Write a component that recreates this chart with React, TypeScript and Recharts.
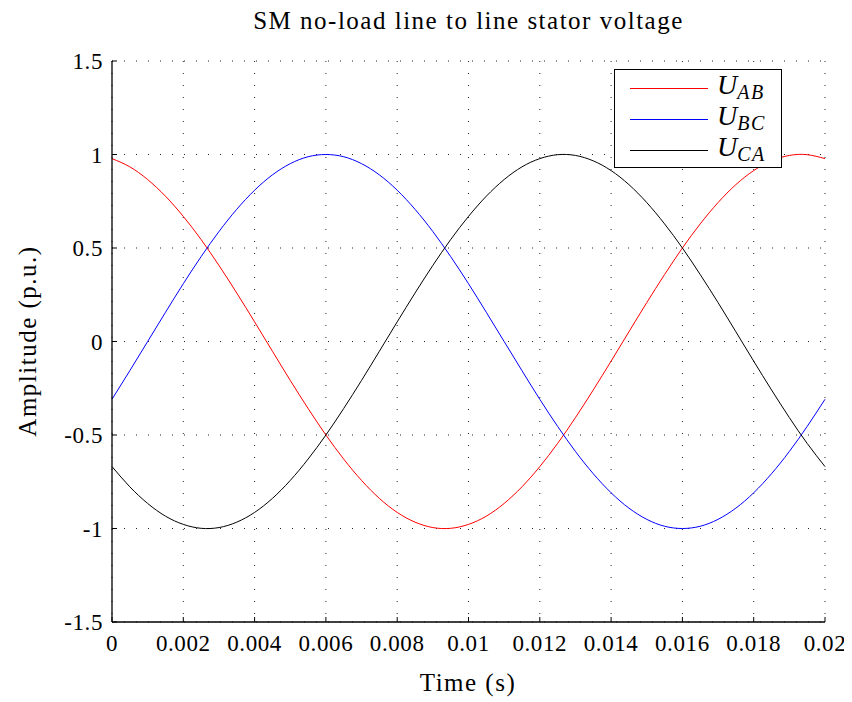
import React from 'react';
import { LineChart, Line, XAxis, YAxis, CartesianGrid, Legend } from 'recharts';

// time samples (s), one every 0.5 ms
const timeS = [
  0, 0.0005, 0.001, 0.0015, 0.002, 0.0025, 0.003, 0.0035, 0.004, 0.0045,
  0.005, 0.0055, 0.006, 0.0065, 0.007, 0.0075, 0.008, 0.0085, 0.009, 0.0095,
  0.01, 0.0105, 0.011, 0.0115, 0.012, 0.0125, 0.013, 0.0135, 0.014, 0.0145,
  0.015, 0.0155, 0.016, 0.0165, 0.017, 0.0175, 0.018, 0.0185, 0.019, 0.0195,
  0.02,
];

const uAB = [
  0.978, 0.934, 0.866, 0.777, 0.669, 0.545, 0.407, 0.259, 0.105, -0.052,
  -0.208, -0.358, -0.5, -0.629, -0.743, -0.839, -0.914, -0.966, -0.995, -0.999,
  -0.978, -0.934, -0.866, -0.777, -0.669, -0.545, -0.407, -0.259, -0.105, 0.052,
  0.208, 0.358, 0.5, 0.629, 0.743, 0.839, 0.914, 0.966, 0.995, 0.999,
  0.978,
];

const uBC = [
  -0.309, -0.156, 0, 0.156, 0.309, 0.454, 0.588, 0.707, 0.809, 0.891,
  0.951, 0.988, 1, 0.988, 0.951, 0.891, 0.809, 0.707, 0.588, 0.454,
  0.309, 0.156, 0, -0.156, -0.309, -0.454, -0.588, -0.707, -0.809, -0.891,
  -0.951, -0.988, -1, -0.988, -0.951, -0.891, -0.809, -0.707, -0.588, -0.454,
  -0.309,
];

const uCA = [
  -0.669, -0.777, -0.866, -0.934, -0.978, -0.999, -0.995, -0.966, -0.914, -0.839,
  -0.743, -0.629, -0.5, -0.358, -0.208, -0.052, 0.105, 0.259, 0.407, 0.545,
  0.669, 0.777, 0.866, 0.934, 0.978, 0.999, 0.995, 0.966, 0.914, 0.839,
  0.743, 0.629, 0.5, 0.358, 0.208, 0.052, -0.105, -0.259, -0.407, -0.545,
  -0.669,
];

const xTicks = [0, 0.002, 0.004, 0.006, 0.008, 0.01, 0.012, 0.014, 0.016, 0.018, 0.02];
const yTicks = [-1.5, -1, -0.5, 0, 0.5, 1, 1.5];

const series = [
  { key: 'uAB', sub: 'AB', color: '#ff0000' },
  { key: 'uBC', sub: 'BC', color: '#0000ff' },
  { key: 'uCA', sub: 'CA', color: '#000000' },
];

const data = timeS.map((t, i) => ({ t, uAB: uAB[i], uBC: uBC[i], uCA: uCA[i] }));

const FONT = "'Liberation Serif', 'Times New Roman', serif";
const tickStyle = { fontSize: 23, fill: '#000', fontFamily: FONT, letterSpacing: 0.6 };

const LegendBox = ({ payload }: any) => (
  <div
    style={{
      width: 168,
      height: 99,
      boxSizing: 'border-box',
      border: '1.5px solid #000',
      background: '#fff',
      paddingTop: 3,
      fontFamily: FONT,
    }}
  >
    {(payload || []).map((entry: any) => (
      <div key={entry.value} style={{ display: 'flex', alignItems: 'center', height: 31 }}>
        <div style={{ marginLeft: 15, width: 78, borderTop: `1.3px solid ${entry.color}` }} />
        <div style={{ marginLeft: 9, fontSize: 28, lineHeight: '28px', fontStyle: 'italic' }}>
          U
          <sub style={{ fontSize: 20, verticalAlign: '-5px', letterSpacing: 1.5 }}>{entry.value}</sub>
        </div>
      </div>
    ))}
  </div>
);

export default function App() {
  return (
    <div style={{ position: 'relative', width: 844, height: 694, fontFamily: FONT, color: '#000' }}>
      <div
        style={{
          position: 'absolute',
          left: 104,
          width: 713,
          top: 0,
          textAlign: 'center',
          fontSize: 25,
          lineHeight: '25px',
          letterSpacing: 1.5,
          whiteSpace: 'nowrap',
        }}
      >
        SM no-load line to line stator voltage
      </div>
      <LineChart
        width={844}
        height={694}
        data={data}
        margin={{ top: 53, right: 27, bottom: 40, left: 34 }}
      >
        <CartesianGrid stroke="#222" strokeDasharray="1 11" />
        <XAxis
          dataKey="t"
          type="number"
          domain={[0, 0.02]}
          ticks={xTicks}
          interval={0}
          height={40}
          tickSize={-5}
          tickMargin={18}
          axisLine={{ stroke: '#000', strokeWidth: 1.3 }}
          tickLine={{ stroke: '#000' }}
          tick={tickStyle}
        />
        <XAxis
          xAxisId="top"
          orientation="top"
          dataKey="t"
          type="number"
          domain={[0, 0.02]}
          ticks={xTicks}
          interval={0}
          height={0}
          tickSize={-5}
          tick={false}
          axisLine={{ stroke: '#000', strokeWidth: 1.3 }}
          tickLine={{ stroke: '#000' }}
        />
        <YAxis
          type="number"
          domain={[-1.5, 1.5]}
          ticks={yTicks}
          interval={0}
          width={70}
          tickSize={-5}
          tickMargin={14}
          axisLine={{ stroke: '#000', strokeWidth: 1.3 }}
          tickLine={{ stroke: '#000' }}
          tick={tickStyle}
        />
        <YAxis
          yAxisId="right"
          orientation="right"
          type="number"
          domain={[-1.5, 1.5]}
          ticks={yTicks}
          interval={0}
          width={0}
          tickSize={-5}
          tick={false}
          axisLine={{ stroke: '#000', strokeWidth: 1.3 }}
          tickLine={{ stroke: '#000' }}
        />
        <Legend
          layout="vertical"
          align="center"
          verticalAlign="middle"
          content={<LegendBox />}
          wrapperStyle={{ left: 606, top: 61, width: 168, height: 99 }}
        />
        {series.map((s) => (
          <Line
            key={s.key}
            type="natural"
            dataKey={s.key}
            name={s.sub}
            stroke={s.color}
            strokeWidth={1}
            dot={false}
            activeDot={false}
            isAnimationActive={false}
          />
        ))}
      </LineChart>
      <div
        style={{
          position: 'absolute',
          left: 360,
          width: 200,
          top: 662,
          textAlign: 'center',
          fontSize: 25,
          lineHeight: '25px',
          letterSpacing: 1.5,
          whiteSpace: 'nowrap',
        }}
      >
        Time (s)
      </div>
      <div
        style={{
          position: 'absolute',
          left: 19,
          top: 333,
          transform: 'translate(-50%, -50%) rotate(-90deg)',
          fontSize: 25,
          lineHeight: '25px',
          letterSpacing: 1.5,
          whiteSpace: 'nowrap',
        }}
      >
        Amplitude (p.u.)
      </div>
    </div>
  );
}
